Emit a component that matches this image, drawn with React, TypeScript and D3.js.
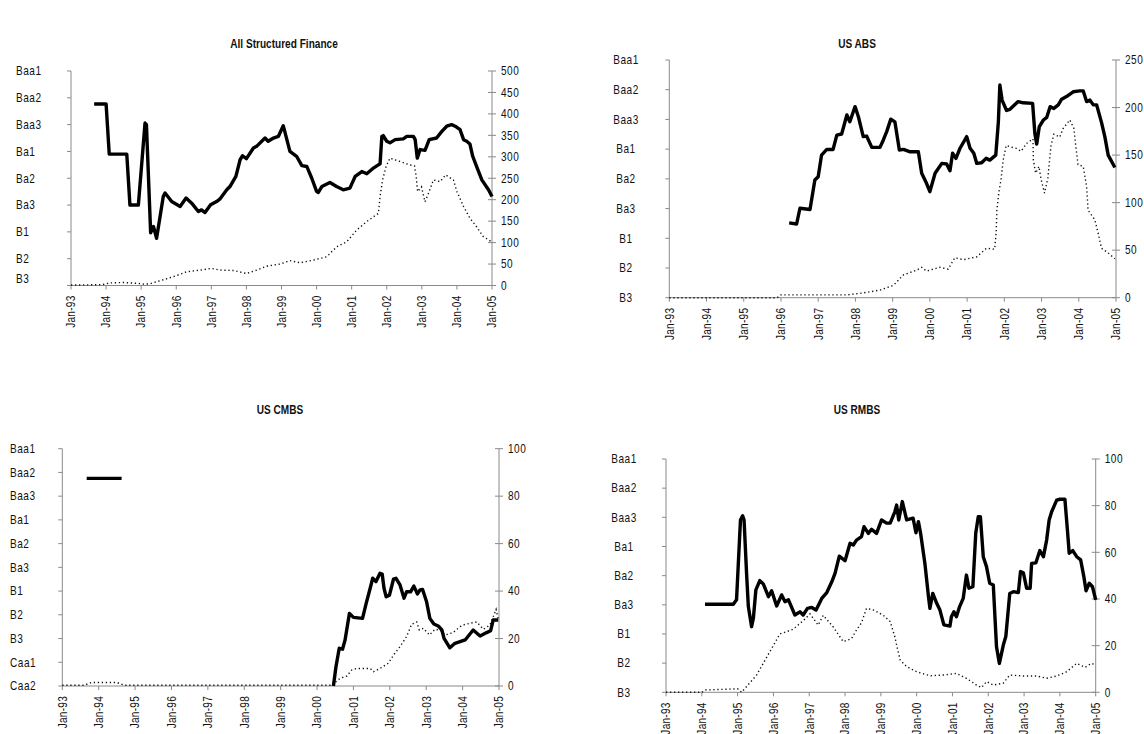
import React from "react";
import * as d3 from "d3";

// ---------- shared axis data ----------
const xTickYears = [1993, 1994, 1995, 1996, 1997, 1998, 1999, 2000, 2001, 2002, 2003, 2004, 2005];
const xTickLabels = ["Jan-93", "Jan-94", "Jan-95", "Jan-96", "Jan-97", "Jan-98", "Jan-99", "Jan-00", "Jan-01", "Jan-02", "Jan-03", "Jan-04", "Jan-05"];
const ratingLabelsB3 = ["B3", "B2", "B1", "Ba3", "Ba2", "Ba1", "Baa3", "Baa2", "Baa1"];
const ratingLabelsCaa2 = ["Caa2", "Caa1", "B3", "B2", "B1", "Ba3", "Ba2", "Ba1", "Baa3", "Baa2", "Baa1"];

// ---------- All Structured Finance ----------
const asfRatingYears = [1993.66, 1994.0, 1994.09, 1994.59, 1994.68, 1994.92, 1995.11, 1995.15, 1995.27, 1995.35, 1995.44, 1995.63, 1995.68, 1995.87, 1996.11, 1996.28, 1996.44, 1996.63, 1996.72, 1996.82, 1996.98, 1997.15, 1997.24, 1997.44, 1997.53, 1997.7, 1997.82, 1997.89, 1998.0, 1998.2, 1998.29, 1998.53, 1998.62, 1998.77, 1998.91, 1999.05, 1999.24, 1999.43, 1999.58, 1999.72, 1999.86, 2000.0, 2000.05, 2000.15, 2000.38, 2000.57, 2000.76, 2000.95, 2001.1, 2001.29, 2001.43, 2001.62, 2001.76, 2001.81, 2001.86, 2001.9, 2002.0, 2002.09, 2002.24, 2002.47, 2002.57, 2002.76, 2002.81, 2002.87, 2002.95, 2003.09, 2003.21, 2003.42, 2003.57, 2003.71, 2003.85, 2003.95, 2004.09, 2004.19, 2004.28, 2004.37, 2004.45, 2004.56, 2004.71, 2004.9, 2005.0];
const asfRatingScores = [6.77, 6.77, 4.9, 4.9, 3.0, 3.0, 6.06, 6.0, 1.97, 2.2, 1.76, 3.32, 3.45, 3.13, 2.95, 3.26, 3.07, 2.76, 2.82, 2.72, 3.01, 3.13, 3.22, 3.57, 3.69, 4.07, 4.69, 4.84, 4.73, 5.13, 5.19, 5.5, 5.38, 5.5, 5.56, 5.96, 5.0, 4.82, 4.47, 4.44, 4.01, 3.51, 3.47, 3.69, 3.84, 3.69, 3.57, 3.63, 4.07, 4.25, 4.17, 4.38, 4.5, 4.54, 5.56, 5.59, 5.38, 5.32, 5.44, 5.47, 5.56, 5.56, 5.44, 4.75, 5.07, 5.04, 5.44, 5.5, 5.75, 5.94, 6.0, 5.94, 5.81, 5.44, 5.38, 5.28, 4.82, 4.44, 3.94, 3.57, 3.32];
const asfCountYears = [1993.0, 1993.9, 1994.1, 1994.5, 1994.9, 1995.1, 1995.25, 1995.45, 1995.7, 1996.0, 1996.3, 1996.7, 1997.0, 1997.25, 1997.63, 1998.0, 1998.3, 1998.58, 1998.96, 1999.24, 1999.53, 1999.9, 2000.29, 2000.57, 2000.86, 2001.14, 2001.43, 2001.76, 2001.81, 2001.88, 2001.98, 2002.09, 2002.38, 2002.66, 2002.79, 2002.84, 2002.88, 2002.99, 2003.09, 2003.19, 2003.33, 2003.52, 2003.68, 2003.9, 2004.0, 2004.19, 2004.37, 2004.56, 2004.75, 2004.99];
const asfCountValues = [1, 2, 6, 7, 5, 3, 4, 9, 15, 23, 32, 36, 40, 36, 35, 28, 36, 45, 50, 58, 53, 59, 67, 90, 102, 129, 149, 168, 207, 246, 277, 297, 289, 281, 279, 254, 219, 230, 195, 215, 246, 242, 258, 246, 219, 184, 157, 137, 114, 102];

// ---------- US ABS ----------
const absRatingYears = [1996.22, 1996.42, 1996.51, 1996.78, 1996.91, 1997.0, 1997.09, 1997.23, 1997.4, 1997.5, 1997.63, 1997.77, 1997.85, 1997.99, 1998.08, 1998.21, 1998.3, 1998.44, 1998.66, 1998.75, 1998.84, 1998.95, 1999.06, 1999.18, 1999.29, 1999.47, 1999.69, 1999.78, 1999.91, 2000.0, 2000.14, 2000.32, 2000.45, 2000.54, 2000.61, 2000.7, 2000.81, 2000.99, 2001.08, 2001.18, 2001.26, 2001.39, 2001.51, 2001.61, 2001.77, 2001.84, 2001.88, 2001.94, 2002.06, 2002.15, 2002.37, 2002.51, 2002.76, 2002.82, 2002.87, 2002.94, 2003.05, 2003.14, 2003.23, 2003.33, 2003.45, 2003.54, 2003.67, 2003.85, 2004.03, 2004.12, 2004.21, 2004.3, 2004.39, 2004.48, 2004.61, 2004.7, 2004.79, 2004.97];
const absRatingScores = [2.52, 2.48, 3.01, 2.97, 3.96, 4.07, 4.8, 4.99, 4.99, 5.47, 5.51, 6.15, 5.92, 6.43, 6.09, 5.42, 5.44, 5.06, 5.06, 5.31, 5.59, 6.01, 5.92, 4.97, 4.99, 4.91, 4.91, 4.19, 3.85, 3.57, 4.19, 4.52, 4.5, 4.27, 4.86, 4.69, 5.03, 5.42, 5.03, 4.86, 4.52, 4.54, 4.69, 4.63, 4.8, 5.92, 7.16, 6.65, 6.3, 6.34, 6.6, 6.56, 6.54, 5.53, 5.17, 5.76, 5.98, 6.07, 6.43, 6.37, 6.49, 6.68, 6.77, 6.93, 6.96, 6.96, 6.6, 6.65, 6.49, 6.49, 5.9, 5.42, 4.8, 4.38];
const absCountYears = [1993.0, 1995.9, 1996.0, 1997.8, 1998.21, 1998.66, 1999.02, 1999.29, 1999.65, 1999.78, 1999.91, 2000.27, 2000.49, 2000.67, 2000.9, 2001.26, 2001.52, 2001.74, 2001.78, 2001.8, 2001.85, 2001.91, 2001.97, 2002.05, 2002.32, 2002.45, 2002.59, 2002.77, 2002.78, 2002.84, 2002.93, 2002.99, 2003.08, 2003.17, 2003.25, 2003.33, 2003.49, 2003.58, 2003.76, 2003.87, 2003.92, 2003.98, 2004.12, 2004.21, 2004.25, 2004.43, 2004.52, 2004.61, 2004.79, 2004.97];
const absCountValues = [0, 0, 3, 3, 5, 8, 13, 24, 29, 32, 28, 32, 30, 42, 40, 43, 52, 51, 68, 92, 110, 124, 145, 160, 157, 154, 162, 167, 145, 131, 138, 124, 110, 126, 159, 172, 169, 178, 187, 178, 159, 140, 138, 117, 92, 82, 68, 52, 47, 41];

// ---------- US CMBS ----------
const cmbsRatingYears = [1993.67, 1994.63, 1997.0, 2000.45, 2000.52, 2000.61, 2000.7, 2000.77, 2000.89, 2001.0, 2001.25, 2001.35, 2001.46, 2001.53, 2001.62, 2001.73, 2001.79, 2001.84, 2001.9, 2001.99, 2002.1, 2002.17, 2002.28, 2002.39, 2002.46, 2002.57, 2002.66, 2002.76, 2002.83, 2002.9, 2003.01, 2003.1, 2003.21, 2003.33, 2003.43, 2003.49, 2003.65, 2003.79, 2003.93, 2004.07, 2004.29, 2004.48, 2004.66, 2004.77, 2004.84, 2004.98];
const cmbsRatingScores = [8.75, 8.75, NaN, 0, 0.81, 1.59, 1.55, 1.94, 3.06, 2.89, 2.85, 3.48, 4.12, 4.54, 4.4, 4.75, 4.72, 4.12, 3.76, 3.83, 4.5, 4.54, 4.26, 3.7, 3.97, 3.97, 4.21, 3.88, 4.05, 4.07, 3.55, 2.85, 2.61, 2.53, 2.36, 2.01, 1.61, 1.8, 1.87, 1.94, 2.36, 2.11, 2.25, 2.33, 2.78, 2.78];
const cmbsCountYears = [1993.0, 1993.6, 1993.8, 1994.5, 1994.7, 2000.45, 2000.52, 2000.63, 2000.82, 2000.95, 2001.09, 2001.46, 2001.55, 2001.73, 2001.96, 2002.1, 2002.28, 2002.46, 2002.6, 2002.74, 2002.81, 2002.92, 2003.09, 2003.24, 2003.38, 2003.52, 2003.74, 2003.93, 2004.07, 2004.39, 2004.57, 2004.75, 2004.84, 2004.92, 2004.98];
const cmbsCountValues = [0.3, 0.3, 1.5, 1.5, 0.3, 0.3, 1.8, 3.2, 4.2, 6.7, 7.4, 7.4, 6, 7.4, 9.6, 13, 16.6, 20.8, 26, 27, 23.6, 24.3, 21.5, 23.9, 23.6, 21.5, 22.5, 25, 26, 27, 23.9, 25.7, 29.2, 32.3, 28];

// ---------- US RMBS ----------
const rmbsRatingYears = [1994.09, 1994.88, 1994.97, 1995.02, 1995.08, 1995.14, 1995.18, 1995.25, 1995.3, 1995.39, 1995.44, 1995.51, 1995.62, 1995.72, 1995.86, 1995.95, 1996.09, 1996.23, 1996.32, 1996.42, 1996.6, 1996.74, 1996.83, 1996.95, 1997.07, 1997.19, 1997.35, 1997.49, 1997.63, 1997.72, 1997.84, 1998.0, 1998.14, 1998.23, 1998.32, 1998.46, 1998.53, 1998.65, 1998.74, 1998.88, 1999.02, 1999.16, 1999.26, 1999.39, 1999.44, 1999.5, 1999.6, 1999.72, 1999.9, 1999.98, 2000.05, 2000.11, 2000.23, 2000.33, 2000.37, 2000.45, 2000.56, 2000.65, 2000.76, 2000.93, 2000.97, 2001.04, 2001.11, 2001.2, 2001.3, 2001.39, 2001.46, 2001.57, 2001.65, 2001.72, 2001.78, 2001.86, 2001.95, 2002.04, 2002.14, 2002.23, 2002.31, 2002.42, 2002.49, 2002.6, 2002.7, 2002.84, 2002.9, 2002.98, 2003.07, 2003.17, 2003.21, 2003.33, 2003.44, 2003.54, 2003.63, 2003.7, 2003.77, 2003.91, 2004.0, 2004.14, 2004.21, 2004.26, 2004.36, 2004.47, 2004.58, 2004.67, 2004.73, 2004.82, 2004.91, 2005.0];
const rmbsRatingScores = [3.02, 3.02, 3.17, 4.42, 5.91, 6.05, 5.91, 4.08, 2.94, 2.25, 2.54, 3.51, 3.83, 3.71, 3.28, 3.48, 2.96, 3.34, 3.11, 3.17, 2.65, 2.76, 2.65, 2.88, 2.91, 2.82, 3.22, 3.42, 3.79, 4.08, 4.67, 4.51, 5.11, 5.05, 5.22, 5.34, 5.68, 5.45, 5.59, 5.45, 5.91, 5.8, 5.8, 6.19, 6.42, 5.91, 6.54, 5.91, 5.97, 5.47, 5.85, 5.45, 4.42, 3.28, 2.88, 3.39, 3.05, 2.82, 2.31, 2.27, 2.59, 2.76, 2.59, 2.94, 3.22, 4.02, 3.57, 3.62, 5.45, 6.02, 6.02, 4.65, 4.31, 3.74, 3.68, 1.56, 0.99, 1.62, 1.91, 3.39, 3.45, 3.42, 4.14, 4.1, 3.57, 3.57, 4.42, 4.44, 4.86, 4.65, 5.22, 5.91, 6.19, 6.59, 6.62, 6.62, 5.57, 4.77, 4.86, 4.65, 4.54, 3.96, 3.48, 3.74, 3.62, 3.17];
const rmbsCountYears = [1993.0, 1994.0, 1994.1, 1995.0, 1995.11, 1995.53, 1995.9, 1996.18, 1996.55, 1996.83, 1997.02, 1997.25, 1997.39, 1997.67, 1997.95, 1998.18, 1998.32, 1998.46, 1998.6, 1998.79, 1999.07, 1999.26, 1999.39, 1999.46, 1999.54, 1999.72, 2000.0, 2000.37, 2000.74, 2001.11, 2001.39, 2001.67, 2001.81, 2001.95, 2002.14, 2002.42, 2002.6, 2002.98, 2003.35, 2003.63, 2003.91, 2004.19, 2004.47, 2004.7, 2004.88, 2005.0];
const rmbsCountValues = [0, 0, 1, 1.5, 0, 7.4, 17.4, 25, 27, 30.7, 33.6, 28.8, 33, 28, 21.7, 23, 26.7, 29.8, 36, 35.3, 33, 30.3, 23.8, 18.9, 13.8, 11, 8.8, 7.1, 7.4, 8.1, 6, 3.1, 2, 4.6, 3.1, 3.9, 7.4, 7, 7, 6, 7, 8.8, 12.4, 10.7, 12.4, 11.7];

const FONT = "'Liberation Sans', Arial, sans-serif";
const AXIS = "#8a8a8a";
const NARROW = 0.84; // horizontal squeeze to mimic a narrow face

type TxtProps = {
  x: number;
  y: number;
  rotate?: number;
  anchor?: "start" | "middle" | "end";
  size?: number;
  bold?: boolean;
  spacing?: number;
  children: React.ReactNode;
};

function Txt({ x, y, rotate = 0, anchor = "start", size = 12, bold = false, spacing = 0, children }: TxtProps) {
  return (
    <text
      transform={`translate(${x},${y}) rotate(${rotate}) scale(${NARROW},1)`}
      textAnchor={anchor}
      dominantBaseline="central"
      fontFamily={FONT}
      fontWeight={bold ? "bold" : "normal"}
      fontSize={size}
      letterSpacing={spacing}
      fill="#111"
    >
      {children}
    </text>
  );
}

type PanelProps = {
  title: string;
  titleX: number;
  titleY: number;
  left: number;
  right: number;
  top: number;
  bottom: number;
  ratingLabels: string[];
  labelX: number;
  labelAnchor: "start" | "middle" | "end";
  lastLabelShift?: number;
  countMax: number;
  countStep: number;
  ratingYears: number[];
  ratingScores: number[];
  countYears: number[];
  countValues: number[];
};

function Panel(p: PanelProps) {
  const x = d3.scaleLinear().domain([1993, 2005]).range([p.left, p.right]);
  const yR = d3.scaleLinear().domain([0, p.ratingLabels.length - 1]).range([p.bottom, p.top]);
  const yC = d3.scaleLinear().domain([0, p.countMax]).range([p.bottom, p.top]);
  const countTicks = d3.range(0, p.countMax + p.countStep / 2, p.countStep);

  const ratingPts = p.ratingYears.map((yr, i) => [yr, p.ratingScores[i]] as [number, number]);
  const countPts = p.countYears.map((yr, i) => [yr, p.countValues[i]] as [number, number]);

  const ratingLine = d3
    .line<[number, number]>()
    .defined((d) => !isNaN(d[1]))
    .x((d) => x(d[0]))
    .y((d) => yR(d[1]))
    .curve(d3.curveLinear);
  const countLine = d3
    .line<[number, number]>()
    .x((d) => x(d[0]))
    .y((d) => yC(d[1]))
    .curve(d3.curveLinear);

  return (
    <g>
      <Txt x={p.titleX} y={p.titleY} anchor="middle" bold size={12}>
        {p.title}
      </Txt>
      {/* left axis */}
      <line x1={p.left} x2={p.left} y1={p.top} y2={p.bottom} stroke={AXIS} strokeWidth={1} />
      {p.ratingLabels.map((lab, i) => (
        <g key={lab + i}>
          <line x1={p.left - 4} x2={p.left} y1={yR(i)} y2={yR(i)} stroke={AXIS} strokeWidth={1} />
          <Txt x={p.labelX} y={yR(i) - (i === 0 && p.lastLabelShift ? p.lastLabelShift : 0)} anchor={p.labelAnchor} spacing={0.6}>
            {lab}
          </Txt>
        </g>
      ))}
      {/* right axis */}
      <line x1={p.right} x2={p.right} y1={p.top} y2={p.bottom} stroke={AXIS} strokeWidth={1} />
      {countTicks.map((t) => (
        <g key={"c" + t}>
          <line x1={p.right - 4} x2={p.right + 4} y1={yC(t)} y2={yC(t)} stroke={AXIS} strokeWidth={1} />
          <Txt x={p.right + 9} y={yC(t)} spacing={0.6}>
            {t}
          </Txt>
        </g>
      ))}
      {/* bottom axis */}
      <line x1={p.left} x2={p.right} y1={p.bottom} y2={p.bottom} stroke={AXIS} strokeWidth={1} />
      {xTickYears.map((yr, i) => (
        <g key={"x" + yr}>
          <line x1={x(yr)} x2={x(yr)} y1={p.bottom} y2={p.bottom + 4} stroke={AXIS} strokeWidth={1} />
          <Txt x={x(yr)} y={p.bottom + 10} rotate={-90} anchor="end" spacing={0.3}>
            {xTickLabels[i]}
          </Txt>
        </g>
      ))}
      {/* series */}
      <path d={countLine(countPts) || ""} fill="none" stroke="#111" strokeWidth={1.4} strokeDasharray="1.3 2.7" />
      <path d={ratingLine(ratingPts) || ""} fill="none" stroke="#000" strokeWidth={3.4} strokeLinejoin="round" strokeLinecap="butt" />
    </g>
  );
}

export default function App() {
  return (
    <svg width={1144} height={734} style={{ position: "absolute", left: 0, top: 0, background: "#fff" }}>
      <rect x={0} y={0} width={1144} height={734} fill="#fff" />
      <Panel
        title="All Structured Finance"
        titleX={284}
        titleY={44}
        left={71}
        right={492}
        top={71}
        bottom={285.5}
        ratingLabels={ratingLabelsB3}
        labelX={16}
        labelAnchor="start"
        lastLabelShift={7}
        countMax={500}
        countStep={50}
        ratingYears={asfRatingYears}
        ratingScores={asfRatingScores}
        countYears={asfCountYears}
        countValues={asfCountValues}
      />
      <Panel
        title="US ABS"
        titleX={857}
        titleY={44}
        left={669.3}
        right={1116}
        top={60}
        bottom={297.7}
        ratingLabels={ratingLabelsB3}
        labelX={626}
        labelAnchor="middle"
        countMax={250}
        countStep={50}
        ratingYears={absRatingYears}
        ratingScores={absRatingScores}
        countYears={absCountYears}
        countValues={absCountValues}
      />
      <Panel
        title="US CMBS"
        titleX={280}
        titleY={410}
        left={62.3}
        right={499}
        top={448.7}
        bottom={686}
        ratingLabels={ratingLabelsCaa2}
        labelX={10}
        labelAnchor="start"
        countMax={100}
        countStep={20}
        ratingYears={cmbsRatingYears}
        ratingScores={cmbsRatingScores}
        countYears={cmbsCountYears}
        countValues={cmbsCountValues}
      />
      <Panel
        title="US RMBS"
        titleX={857}
        titleY={410}
        left={666}
        right={1095.7}
        top={459}
        bottom={692.3}
        ratingLabels={ratingLabelsB3}
        labelX={624}
        labelAnchor="middle"
        countMax={100}
        countStep={20}
        ratingYears={rmbsRatingYears}
        ratingScores={rmbsRatingScores}
        countYears={rmbsCountYears}
        countValues={rmbsCountValues}
      />
    </svg>
  );
}
